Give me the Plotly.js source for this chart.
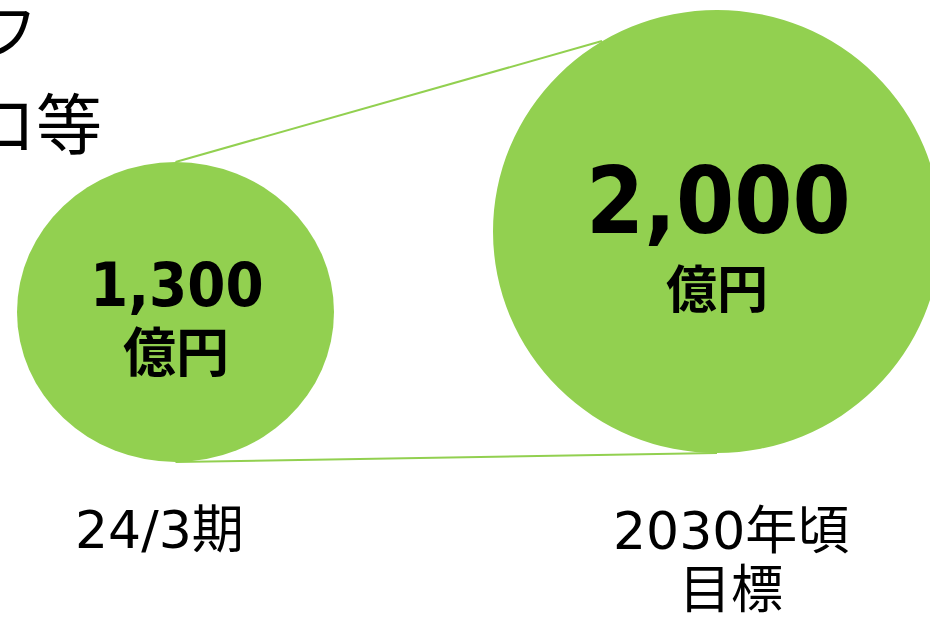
<!DOCTYPE html>
<html>
<head>
<meta charset="utf-8">
<script src="https://cdn.plot.ly/plotly-3.0.1.min.js"></script>
<style>html,body{margin:0;padding:0;background:#fff;}#chart{width:930px;height:618px;}</style>
</head>
<body>
<div id="chart"></div>
<script>
// ---- data ----
var categories = ["24/3期", "2030年頃<br>目標"];
var values = [1300, 2000];
var unit = "億円";
var titleFragments = ["フ", "ロ等"];

// ---- styles / layout geometry (pixels in a 930x618 frame) ----
var green = "#92D050";
var centers = [[175.5, 312], [717, 231.5]];
var radii = [[158.5, 150], [224, 221.5]];
var numSizes = [61, 93];
var numY = [284, 201];
var unitSizes = [53, 51];
var unitY = [349, 286];
var labelX = [159, 731];
var labelY = [530, 531];
var labelLineGap = 59;

var shapes = [];
// connector lines (behind circles)
shapes.push({type: "line", xref: "x", yref: "y", layer: "below",
  x0: centers[0][0], y0: centers[0][1] - radii[0][1], x1: 602, y1: 41,
  line: {color: green, width: 2}});
shapes.push({type: "line", xref: "x", yref: "y", layer: "below",
  x0: centers[0][0], y0: centers[0][1] + radii[0][1], x1: centers[1][0], y1: centers[1][1] + radii[1][1],
  line: {color: green, width: 2}});
for (var i = 0; i < values.length; i++) {
  shapes.push({type: "circle", xref: "x", yref: "y", layer: "below",
    x0: centers[i][0] - radii[i][0], x1: centers[i][0] + radii[i][0],
    y0: centers[i][1] - radii[i][1], y1: centers[i][1] + radii[i][1],
    fillcolor: green, line: {width: 0}});
}

var numFont = "'DejaVu Sans Condensed', 'DejaVu Sans', 'Noto Sans CJK JP', sans-serif";
var jpBold = "'Noto Sans CJK JP', sans-serif";
var labelFont = "'DejaVu Sans', 'Noto Sans CJK JP', sans-serif";

var annotations = [];
for (var i = 0; i < values.length; i++) {
  annotations.push({xref: "x", yref: "y", x: centers[i][0] + 1, y: numY[i], showarrow: false,
    xanchor: "center", yanchor: "middle",
    text: "<b>" + values[i].toLocaleString("en-US") + "</b>",
    font: {family: numFont, size: numSizes[i], color: "#000"}});
  annotations.push({xref: "x", yref: "y", x: centers[i][0], y: unitY[i], showarrow: false,
    xanchor: "center", yanchor: "middle",
    text: "<b>" + unit + "</b>",
    font: {family: jpBold, size: unitSizes[i], color: "#000"}});
  var lines = categories[i].split("<br>");
  for (var k = 0; k < lines.length; k++) {
    annotations.push({xref: "x", yref: "y", x: labelX[i], y: labelY[i] + k * labelLineGap, showarrow: false,
      xanchor: "center", yanchor: "middle", align: "center",
      text: lines[k],
      font: {family: labelFont, size: 52, color: "#000"}});
  }
}
annotations.push({xref: "x", yref: "y", x: 40, y: 27, showarrow: false,
  xanchor: "right", yanchor: "middle", text: titleFragments[0],
  font: {family: "'Noto Sans CJK JP', sans-serif", size: 60, color: "#000"}});
annotations.push({xref: "x", yref: "y", x: 104, y: 120, showarrow: false,
  xanchor: "right", yanchor: "middle", text: titleFragments[1],
  font: {family: "'Noto Sans CJK JP', sans-serif", size: 66, color: "#000"}});

var layout = {
  width: 930, height: 618,
  margin: {l: 0, r: 0, t: 0, b: 0},
  paper_bgcolor: "#fff", plot_bgcolor: "#fff",
  showlegend: false,
  xaxis: {range: [0, 930], visible: false, fixedrange: true},
  yaxis: {range: [618, 0], visible: false, fixedrange: true},
  shapes: shapes,
  annotations: annotations
};

Plotly.newPlot("chart", [{x: [], y: [], type: "scatter", mode: "markers", hoverinfo: "skip"}], layout, {staticPlot: true, displayModeBar: false});
</script>
</body>
</html>
